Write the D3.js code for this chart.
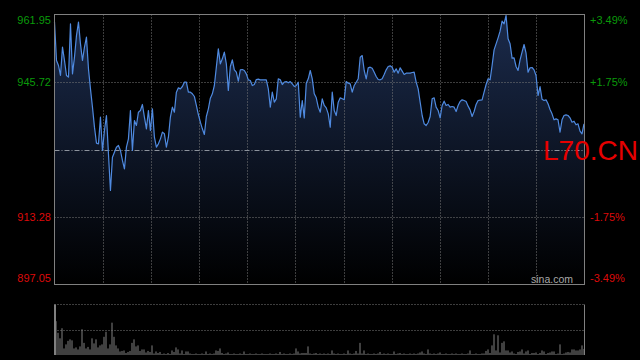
<!DOCTYPE html>
<html><head><meta charset="utf-8">
<script src="https://cdn.jsdelivr.net/npm/d3@7"></script>
<style>html,body{margin:0;padding:0;background:#000;}svg{display:block;}</style>
</head><body>
<script>
const symbol = "L70.CN";
const watermark = "sina.com";
const prevClose = 929.50;
const priceTicks = [961.95, 945.72, 929.50, 913.28, 897.05];
const priceLabels = ["961.95", "945.72", "", "913.28", "897.05"];
const pctLabels = ["+3.49%", "+1.75%", "", "-1.75%", "-3.49%"];
const gridDivisions = 11;
const prices = [960.11,950.89,949.69,947.29,954.10,950.89,947.29,946.89,959.71,947.69,
951.69,956.90,960.11,954.90,950.89,954.10,956.50,948.89,944.08,939.68,
934.87,931.02,930.86,937.27,929.26,934.07,937.67,928.46,919.65,927.66,
928.86,930.06,930.46,929.26,926.86,924.85,930.06,932.06,938.87,929.26,
936.47,935.27,938.47,938.87,940.32,937.27,934.47,938.87,934.07,939.27,
932.46,930.06,930.86,932.06,933.67,933.27,930.06,932.46,937.27,939.68,
938.47,943.28,944.32,944.08,944.64,945.68,945.68,943.28,943.28,942.88,
942.24,940.08,937.91,936.07,934.47,933.11,937.43,939.27,941.84,942.88,
944.88,949.29,953.70,950.09,951.29,952.89,950.09,943.68,949.45,951.05,
948.65,948.09,945.92,948.65,948.73,948.49,947.69,946.25,946.08,944.88,
945.12,946.33,946.41,946.25,946.25,946.25,946.25,944.08,939.68,943.28,
940.88,941.68,946.49,946.25,945.12,945.68,945.84,945.52,945.84,945.28,
944.64,944.88,945.68,937.27,941.28,937.11,945.44,946.49,948.49,946.49,
942.88,941.92,939.68,938.47,941.68,940.08,939.51,938.07,934.87,943.28,
938.87,937.67,940.88,941.92,941.68,941.44,945.84,945.44,945.28,943.28,
944.88,945.68,946.49,951.69,952.09,948.49,946.49,949.13,949.29,949.05,
948.09,947.05,946.33,946.25,946.49,947.53,948.65,949.45,949.61,949.29,
948.09,948.89,947.85,949.13,948.33,947.53,947.85,947.85,947.85,948.01,
948.09,945.68,944.08,940.88,937.67,935.67,935.27,935.99,937.43,941.68,
941.92,939.68,938.87,937.11,940.08,941.12,940.08,940.32,939.68,939.84,
939.68,938.63,940.08,941.04,941.44,941.28,941.04,939.92,939.03,937.43,
938.63,940.32,941.28,941.36,941.44,943.28,945.12,946.49,946.25,949.69,
953.46,954.90,956.34,957.94,960.35,959.71,961.71,956.10,954.90,951.45,
951.53,949.45,948.49,951.05,952.89,954.74,952.65,948.09,949.13,949.21,
948.65,947.29,942.48,944.64,941.60,941.28,941.44,940.48,939.11,938.07,
936.63,936.87,936.63,933.67,936.63,937.67,937.83,937.67,937.11,936.07,
936.31,935.43,935.67,933.91,933.27,935.67];
const volumes = [100,67,44,33,53,13,21,28,31,29,
13,15,11,17,51,24,13,16,11,33,
23,31,15,19,21,36,46,13,21,64,
36,19,13,7,8,9,4,6,8,24,
31,17,19,8,11,11,5,8,6,19,
3,7,4,6,2,3,2,4,2,9,
6,15,11,3,9,2,7,7,3,2,
2,3,2,2,3,2,7,2,3,2,
3,9,8,13,4,2,3,5,2,2,
3,2,2,3,2,7,2,2,3,2,
2,3,2,2,3,2,2,2,3,2,
2,3,2,6,2,3,2,2,3,2,
3,13,7,3,4,4,4,17,3,2,
3,4,2,3,2,3,2,3,2,9,
3,2,3,2,2,3,2,9,3,2,
3,8,3,24,3,9,2,3,2,2,
3,2,3,6,2,3,2,3,2,2,
7,2,3,4,2,3,2,2,3,2,
3,2,3,5,7,3,2,11,3,2,
3,2,3,5,2,2,3,2,2,3,
2,3,2,2,3,2,2,3,9,2,
2,3,2,2,3,3,8,11,4,19,
41,9,39,5,24,27,9,9,5,7,
3,2,6,7,11,3,7,9,2,4,
4,5,2,4,9,7,2,4,5,7,
7,2,3,21,2,3,5,6,5,11,
11,9,9,11,19,12];

const W = 640, H = 360;
const L = 54.5, R = 584.5, T = 14.5, B = 284.5;
const VT = 304.5, VB = 355;

const svg = d3.select("body").append("svg").attr("width", W).attr("height", H)
  .style("background", "#000");

const x = d3.scaleLinear().domain([0, prices.length - 1]).range([L, R - 0.5]);
const y = d3.scaleLinear().domain([d3.min(priceTicks), d3.max(priceTicks)]).range([B, T]);
const yv = d3.scaleLinear().domain([0, d3.max(volumes)]).range([VB, VT]);

const defs = svg.append("defs");
const grad = defs.append("linearGradient").attr("id", "fillGrad")
  .attr("gradientUnits", "userSpaceOnUse").attr("x1", 0).attr("x2", 0).attr("y1", T).attr("y2", B);
grad.append("stop").attr("offset", "0%").attr("stop-color", "#1b2b4c");
grad.append("stop").attr("offset", "100%").attr("stop-color", "#000000");

// area
svg.append("path").datum(prices)
  .attr("d", d3.area().x((d, i) => x(i)).y0(B).y1(d => y(d)))
  .attr("fill", "url(#fillGrad)");

// vertical grid
const xg = d3.scaleLinear().domain([0, gridDivisions]).range([L, R]);
svg.append("g").selectAll("line").data(d3.range(1, gridDivisions)).join("line")
  .attr("x1", d => Math.round(xg(d)) + 0.5).attr("x2", d => Math.round(xg(d)) + 0.5)
  .attr("y1", T).attr("y2", B)
  .attr("stroke", "#7a7a7a").attr("stroke-dasharray", "1,2");

// horizontal grid
svg.append("g").selectAll("line").data(priceTicks.filter((d, i) => i > 0 && i < priceTicks.length - 1)).join("line")
  .attr("x1", L).attr("x2", R)
  .attr("y1", d => Math.round(y(d)) + 0.5).attr("y2", d => Math.round(y(d)) + 0.5)
  .attr("stroke", d => d === prevClose ? "#8d939c" : "#7a7a7a")
  .attr("stroke-dasharray", d => d === prevClose ? "5,2,1,2" : "1,2");

// price line
svg.append("path").datum(prices)
  .attr("d", d3.line().x((d, i) => x(i)).y(d => y(d)))
  .attr("fill", "none").attr("stroke", "#4f8ae0").attr("stroke-width", 1.2)
  .attr("stroke-linejoin", "round");

// frame
svg.append("rect").attr("x", L).attr("y", T).attr("width", R - L).attr("height", B - T)
  .attr("fill", "none").attr("stroke", "#808080");

// left labels
const nT = priceTicks.length;
function labelY(d, i) {
  if (i === 0) return y(d) + 9.5;
  if (i === nT - 1) return y(d) - 3;
  return y(d) + 4;
}
const colorFor = d => d > prevClose ? "#0a9a0a" : "#dd0a0a";
svg.append("g").selectAll("text").data(priceTicks).join("text")
  .attr("x", 51).attr("y", labelY).attr("text-anchor", "end")
  .attr("font-family", "Liberation Sans, Arial, sans-serif").attr("font-size", 11)
  .attr("fill", colorFor).text((d, i) => priceLabels[i]);
svg.append("g").selectAll("text").data(priceTicks).join("text")
  .attr("x", 590).attr("y", labelY).attr("text-anchor", "start")
  .attr("font-family", "Liberation Sans, Arial, sans-serif").attr("font-size", 11)
  .attr("fill", colorFor).text((d, i) => pctLabels[i]);

// watermark
svg.append("text").attr("x", 573).attr("y", 283).attr("text-anchor", "end")
  .attr("font-family", "Liberation Sans, Arial, sans-serif").attr("font-size", 10.5)
  .attr("fill", "#a8a8a8").text(watermark);

// symbol
svg.append("text").attr("x", 543).attr("y", 160)
  .attr("font-family", "Liberation Sans, Arial, sans-serif").attr("font-size", 28)
  .attr("fill", "#e60000").text(symbol);

// volume panel
const vg = svg.append("g");
[VT, Math.round((VT + VB) / 2) + 0.5].forEach(v => {
  vg.append("line").attr("x1", L).attr("x2", R).attr("y1", v).attr("y2", v)
    .attr("stroke", "#7a7a7a").attr("stroke-dasharray", "1,2");
});
vg.append("g").selectAll("rect").data(volumes).join("rect")
  .attr("x", (d, i) => Math.round(x(i)) - 0.5 + (i === 0 ? 0.5 : 0))
  .attr("width", 1)
  .attr("y", d => yv(d)).attr("height", d => VB - yv(d))
  .attr("fill", "#808080");
[L, R].forEach(v => {
  vg.append("line").attr("x1", v).attr("x2", v).attr("y1", VT).attr("y2", VB)
    .attr("stroke", "#808080");
});
</script>
</body></html>
